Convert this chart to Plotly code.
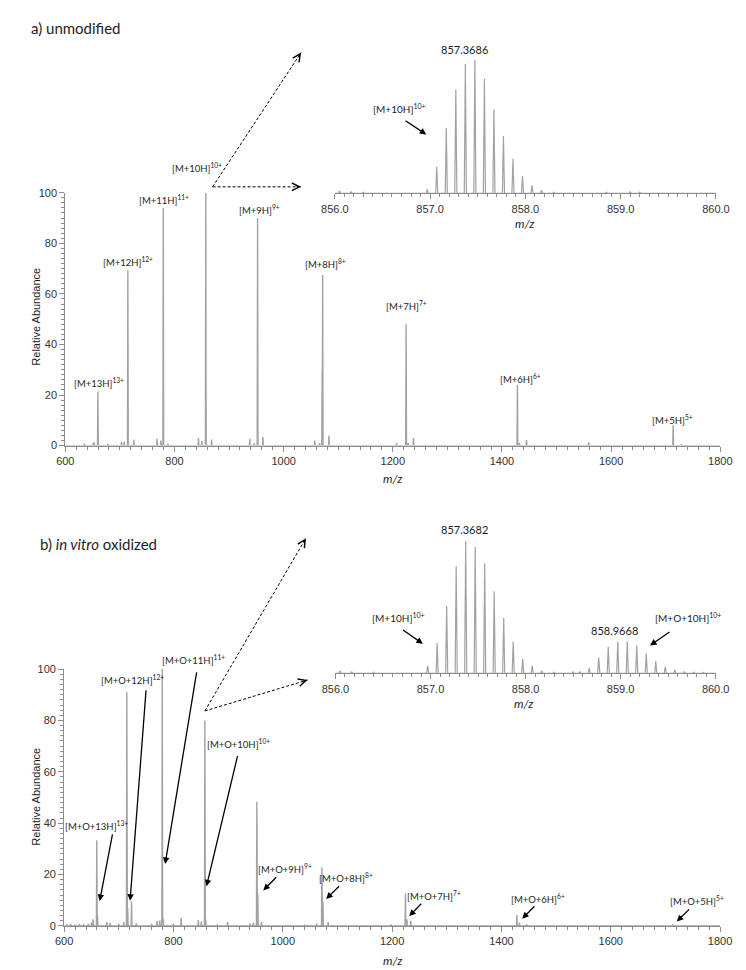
import math
import plotly.graph_objects as go

# ---------------- data ----------------
# a) unmodified – full spectrum (m/z, relative abundance)
a_mz = [635, 651, 653, 659.7, 678, 703, 708, 714.6, 725.5, 768, 775, 779.5, 788,
        844, 850, 857.4, 868, 938, 946, 952.3, 962, 1057, 1066, 1070.6, 1071.5,
        1083, 1207, 1224.4, 1228, 1238, 1428.3, 1432, 1445, 1559, 1713.7, 1729]
a_int = [0.8, 1.0, 1.3, 21.4, 0.7, 1.4, 1.6, 69.4, 2.4, 2.7, 2.0, 94.0, 0.7,
         3.0, 1.8, 100.0, 2.4, 2.7, 1.0, 90.0, 3.4, 2.0, 1.0, 30.0, 67.5,
         4.0, 1.0, 48.0, 1.0, 3.0, 24.0, 1.0, 2.2, 1.3, 8.0, 0.5]

# a) zoom on [M+10H]10+ (relative to most intense isotope)
a_zoom_mz = [856.05, 856.17, 856.30, 856.97, 857.07, 857.17, 857.27, 857.37, 857.47,
             857.57, 857.67, 857.77, 857.87, 857.97, 858.07, 858.17, 858.30,
             858.85, 859.10, 859.20]
a_zoom_int = [0.02, 0.015, 0.01, 0.03, 0.20, 0.49, 0.78, 0.97, 1.00,
              0.86, 0.63, 0.43, 0.26, 0.13, 0.06, 0.025, 0.01,
              0.01, 0.015, 0.01]

# b) in vitro oxidized – full spectrum
b_mz = [605, 612, 620, 628, 636, 644, 650, 653, 659.7, 661.0, 678, 684, 700, 709,
        714.6, 716.3, 723.3, 732, 760, 770, 775, 779.5, 781.0, 800, 814, 845.5,
        851, 857.4, 859.0, 880, 899, 940, 946, 952.5, 954.3, 961, 1040, 1062,
        1071.5, 1073.5, 1083, 1198, 1224.4, 1227.0, 1234, 1428.3, 1433, 1446, 1713.7]
b_int = [0.6, 0.8, 0.5, 0.7, 0.6, 0.8, 1.3, 2.6, 33.3, 4.0, 1.5, 1.2, 0.8, 1.5,
         91.0, 7.0, 9.6, 1.0, 0.8, 2.0, 2.2, 100.0, 3.0, 0.8, 3.2, 2.3,
         1.8, 80.0, 2.5, 0.6, 1.5, 1.0, 1.3, 48.3, 12.5, 1.5, 0.5, 1.0,
         22.7, 9.3, 1.5, 0.6, 12.6, 2.6, 2.0, 4.2, 1.3, 0.6, 0.6]

# b) zoom on [M+10H]10+ and [M+O+10H]10+
b_zoom_mz = [856.05, 856.17, 856.40, 856.97, 857.07, 857.17, 857.27, 857.37, 857.47,
             857.57, 857.67, 857.77, 857.87, 857.97, 858.07, 858.17, 858.30, 858.50,
             858.57, 858.67, 858.77, 858.87, 858.97, 859.07, 859.17, 859.27, 859.37,
             859.47, 859.57, 859.67, 859.77, 859.87]
b_zoom_int = [0.02, 0.015, 0.01, 0.057, 0.23, 0.51, 0.81, 1.00, 0.955,
              0.83, 0.62, 0.42, 0.24, 0.11, 0.057, 0.02, 0.01, 0.012,
              0.015, 0.04, 0.12, 0.20, 0.24, 0.24, 0.21, 0.15, 0.094,
              0.05, 0.027, 0.015, 0.01, 0.008]

charges = [13, 12, 11, 10, 9, 8, 7, 6, 5]
a_labels = ["[M+%dH]<sup>%d+</sup>" % (z, z) for z in charges]
b_labels = ["[M+O+%dH]<sup>%d+</sup>" % (z, z) for z in charges]
x_ticks_main = [600, 800, 1000, 1200, 1400, 1600, 1800]
x_ticks_zoom = [856.0, 857.0, 858.0, 859.0, 860.0]

# ---------------- layout helpers ----------------
W, H = 746, 970
def PX(p): return p / W
def PY(p): return 1 - p / H

SPEC = "#a2a2a2"
AXC = "#8c8c8c"
TXT = "#1e1e1e"
LBL_FONT = "Lato"
TICK_FONT = "Liberation Sans"


def profile(mz, inten, half, lo, hi):
    xs, ys = [lo], [0]
    for m, h in sorted(zip(mz, inten)):
        xs += [m - half, m, m + half]
        ys += [0, h, 0]
    xs.append(hi)
    ys.append(0)
    return xs, ys


fig = go.Figure()
for (mz, it, half, lo, hi, xa, ya, lw) in [
    (a_mz, a_int, 0.7, 600, 1800, "x", "y", 1.4),
    (a_zoom_mz, a_zoom_int, 0.011, 856, 860, "x2", "y2", 1.2),
    (b_mz, b_int, 0.7, 600, 1800, "x3", "y3", 1.4),
    (b_zoom_mz, b_zoom_int, 0.011, 856, 860, "x4", "y4", 1.2),
]:
    xs, ys = profile(mz, it, half, lo, hi)
    fig.add_trace(go.Scatter(x=xs, y=ys, mode="lines", xaxis=xa, yaxis=ya,
                             line=dict(color=SPEC, width=lw), showlegend=False,
                             hoverinfo="skip"))


def xaxis_style(domain, anchor, rng, tickvals, fmt, minor_dtick):
    return dict(domain=domain, anchor=anchor, range=rng, tickvals=tickvals,
                tickformat=fmt, ticks="outside", ticklen=5, tickwidth=1, tickcolor=AXC,
                minor=dict(dtick=minor_dtick, tick0=rng[0], ticks="outside", ticklen=3,
                           tickwidth=1, tickcolor=AXC),
                showline=True, linecolor=AXC, linewidth=1, showgrid=False, zeroline=False,
                tickfont=dict(family=TICK_FONT, size=11, color="#333333"), fixedrange=True)


def yaxis_main(domain, anchor):
    return dict(domain=domain, anchor=anchor, range=[0, 100], tickvals=[0, 20, 40, 60, 80, 100],
                ticks="outside", ticklen=5, tickwidth=1, tickcolor=AXC,
                minor=dict(dtick=2, tick0=0, ticks="outside", ticklen=3, tickwidth=1, tickcolor=AXC),
                showline=True, linecolor=AXC, linewidth=1, showgrid=False, zeroline=False,
                tickfont=dict(family=TICK_FONT, size=11, color="#333333"), fixedrange=True)


def yaxis_zoom(domain, anchor):
    return dict(domain=domain, anchor=anchor, range=[0, 1], visible=False, fixedrange=True)


fig.update_layout(
    width=W, height=H, margin=dict(l=0, r=0, t=0, b=0),
    paper_bgcolor="white", plot_bgcolor="rgba(0,0,0,0)", showlegend=False,
    xaxis=xaxis_style([PX(45), PX(725.5)], "y", [600, 1800], x_ticks_main, "d", 20),
    yaxis=yaxis_main([PY(437), PY(181)], "x"),
    xaxis2=xaxis_style([PX(325), PX(721)], "y2", [856, 860], x_ticks_zoom, ".1f", 0.1),
    yaxis2=yaxis_zoom([PY(181.7), PY(46.7)], "x2"),
    xaxis3=xaxis_style([PX(43.8), PX(725.3)], "y3", [600, 1800], x_ticks_main, "d", 20),
    yaxis3=yaxis_main([PY(923.3), PY(663.3)], "x3"),
    xaxis4=xaxis_style([PX(325.7), PX(720.7)], "y4", [856, 860], x_ticks_zoom, ".1f", 0.1),
    yaxis4=yaxis_zoom([PY(667.7), PY(533.3)], "x4"),
)

ann = []
def text(t, x, y, xref="paper", yref="paper", size=10, xanchor="center", angle=0, family=LBL_FONT):
    ann.append(dict(text=t, x=x, y=y, xref=xref, yref=yref, showarrow=False, xanchor=xanchor,
                    yanchor="middle", textangle=angle,
                    font=dict(family=family, size=size, color=TXT)))

def arrow(tail, tip, xref, yref, width=1.3, size=1.0):
    ann.append(dict(text="", x=tip[0], y=tip[1], ax=tail[0], ay=tail[1], xref=xref, yref=yref,
                    axref=xref, ayref=yref, showarrow=True, arrowhead=2, arrowsize=size,
                    arrowwidth=width, arrowcolor="black", standoff=0, startstandoff=0))

# panel titles
text("a) unmodified", PX(7), PY(14), size=15, xanchor="left")
text("b) <i>in vitro</i> oxidized", PX(17), PY(537), size=15, xanchor="left")

# axis titles
for yc in (306, 792):
    text("Relative Abundance", PX(15), PY(yc), size=11, angle=-90, family=TICK_FONT)
text("<i>m/z</i>", PX(385), PY(470), size=12)
text("<i>m/z</i>", PX(385), PY(958), size=12)
text("<i>m/z</i>", PX(523), PY(212), size=12)
text("<i>m/z</i>", PX(522), PY(698), size=12)

# top panel ion labels (x in m/z, y in relative abundance)
a_lab_pos = [(662, 25), (715, 72.7), (780, 97.3), (842, None), (956, 93.4),
             (1076, 71.9), (1226, 55.5), (1434, 26.6), (1712, 10.5)]
for lab, (lx, ly) in zip(a_labels, a_lab_pos):
    if ly is None:
        text(lab, lx, 1.10, xref="x", yref="y domain", size=9.5)
    else:
        text(lab, lx, ly, xref="x", yref="y", size=9.5)

# bottom panel ion labels and arrows
b_lab_pos = [(658.5, 39.1), (725.4, 95.8), (836.3, None), (919.1, 70.9), (1003.6, 22.4),
             (1116.3, 19.0), (1276.5, 11.8), (1466.7, 10.8), (1757.2, 9.8)]
for lab, (lx, ly) in zip(b_labels, b_lab_pos):
    if ly is None:
        text(lab, lx, 1.036, xref="x3", yref="y3 domain", size=9.5)
    else:
        text(lab, lx, ly, xref="x3", yref="y3", size=9.5)
b_arrows = [((688.9, 36.2), (665.0, 9.7)), ((750.0, 92.3), (720.6, 9.8)),
            ((842.8, 99.3), (784.7, 24.1)), ((917.8, 66.7), (860.4, 15.4)),
            ((990.7, 19.5), (964.3, 13.8)), ((1105.7, 16.0), (1079.3, 10.5)),
            ((1255.9, 9.2), (1231.3, 3.8)), ((1463.2, 8.2), (1438.0, 2.8)),
            ((1746.2, 7.0), (1720.8, 1.7))]
for tail, tip in b_arrows:
    arrow(tail, tip, "x3", "y3")

# zoom insets
text("857.3686", 857.364, 1.079, xref="x2", yref="y2 domain", size=11)
text(a_labels[3], 856.677, 0.635, xref="x2", yref="y2", size=10)
arrow((856.727, 0.553), (856.96, 0.442), "x2", "y2")

text("857.3682", 857.36, 1.086, xref="x4", yref="y4 domain", size=11)
text("858.9668", 858.94, 0.325, xref="x4", yref="y4", size=11)
text(a_labels[3], 856.668, 0.424, xref="x4", yref="y4", size=10)
arrow((856.695, 0.335), (856.92, 0.223), "x4", "y4")
text(b_labels[3], 859.706, 0.424, xref="x4", yref="y4", size=10)
arrow((859.53, 0.32), (859.31, 0.211), "x4", "y4")

# dashed connector arrows (main peak -> zoom)
shapes = []
connectors = [((198, 175), (290, 39)), ((198, 175), (290, 175)),
              ((190, 705.7), (295, 530.7)), ((190, 705.7), (296.7, 674.3))]
for (x0, y0), (x1, y1) in connectors:
    shapes.append(dict(type="line", xref="paper", yref="paper", x0=PX(x0), y0=PY(y0),
                       x1=PX(x1), y1=PY(y1), line=dict(color="black", width=1, dash="3px,2px")))
    dx, dy = x1 - x0, y1 - y0
    L = math.hypot(dx, dy)
    ann.append(dict(text="", x=PX(x1), y=PY(y1), xref="paper", yref="paper",
                    ax=-6 * dx / L, ay=-6 * dy / L, showarrow=True, arrowhead=5,
                    arrowsize=1.5, arrowwidth=1, arrowcolor="black", standoff=0))

fig.update_layout(annotations=ann, shapes=shapes)
fig.write_html("out.html")
